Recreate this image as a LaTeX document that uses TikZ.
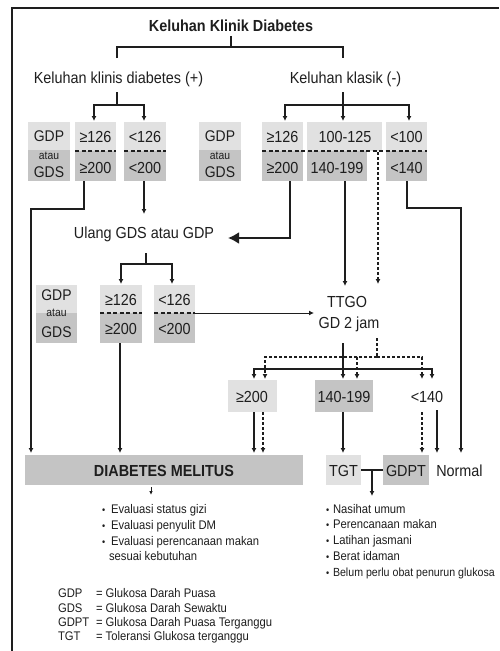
\documentclass[tikz,border=0pt]{standalone}
\usepackage{fontspec}
\setmainfont[FakeStretch=0.9]{Liberation Sans}
\usetikzlibrary{arrows.meta}
\definecolor{lightg}{RGB}{225,225,225}
\definecolor{darkg}{RGB}{196,196,196}
\definecolor{ink}{RGB}{30,30,30}
\newcommand\fsz[1]{\fontsize{#1}{#1}\selectfont}
\newcommand\mkbox[6]{\node[#6, minimum width=#4pt, minimum height=#5pt] (#1) at (#2,#3) {};}
\begin{document}
\begin{tikzpicture}[x=1pt,y=-1pt,
  line width=1.3pt, ink,
  txt/.style={inner sep=0pt, outer sep=0pt, text=ink, text depth=0pt, font=\fsz{16}},
  sml/.style={inner sep=0pt, outer sep=0pt, text=ink, font=\fsz{12.5}},
  lt/.style={fill=lightg, draw=none, inner sep=0pt, outer sep=0pt, anchor=north west},
  dk/.style={fill=darkg, draw=none, inner sep=0pt, outer sep=0pt, anchor=north west},
  arr/.style={-{Latex[length=5pt,width=5pt]}},
  dsh/.style={dash pattern=on 3pt off 2pt},
  sep/.style={line width=1.2pt, dash pattern=on 4pt off 2.5pt},
  bigarr/.style={line width=2pt, -{Latex[length=11pt,width=12pt]}},
]
\useasboundingbox (0,0) rectangle (499,651);
\fill[white] (0,0) rectangle (499,651);
% frame
\draw[line width=1.5pt] (12,651) -- (12,8) -- (499,8);

% ---------- boxes ----------
\mkbox{lg1t}{28}{122}{42}{28}{lt}
\mkbox{lg1b}{28}{150}{42}{31}{dk}
\mkbox{la1t}{75}{122}{41}{29}{lt}
\mkbox{la1b}{75}{151}{41}{30}{dk}
\mkbox{lb1t}{124}{122}{42}{29}{lt}
\mkbox{lb1b}{124}{151}{42}{30}{dk}
\mkbox{rg1t}{199}{122}{42}{28}{lt}
\mkbox{rg1b}{199}{150}{42}{31}{dk}
\mkbox{ra1t}{262}{122}{41}{29}{lt}
\mkbox{ra1b}{262}{151}{41}{30}{dk}
\mkbox{rb1t}{307}{122}{75}{29}{lt}
\mkbox{rb1b}{307}{151}{60}{30}{dk}
\mkbox{rc1t}{386}{122}{41}{29}{lt}
\mkbox{rc1b}{386}{151}{41}{30}{dk}
\mkbox{lg2t}{36}{285}{41}{28}{lt}
\mkbox{lg2b}{36}{313}{41}{30}{dk}
\mkbox{la2t}{100}{285}{42}{28}{lt}
\mkbox{la2b}{100}{313}{42}{30}{dk}
\mkbox{lb2t}{154}{285}{41}{28}{lt}
\mkbox{lb2b}{154}{313}{41}{30}{dk}
\mkbox{r3a}{228}{380}{49}{32}{lt}
\mkbox{r3b}{315}{380}{58}{32}{dk}
\mkbox{dm}{25}{455}{278}{30}{dk}
\mkbox{tgtb}{326}{455}{35}{30}{lt}
\mkbox{gdptb}{383}{455}{46}{30}{dk}

% separators
\draw[sep] (la1t.south west) -- (la1t.south east);
\draw[sep] (lb1t.south west) -- (lb1t.south east);
\draw[sep] (ra1t.south west) -- (rc1t.south east);
\draw[sep] (la2t.south west) -- (la2t.south east);
\draw[sep] (lb2t.south west) -- (lb2t.south east);

% ---------- texts ----------
\node[txt, font=\bfseries\fsz{16}] (title) at (231,26) {Keluhan Klinik Diabetes};
\node[txt] (kpos) at (118.5,78) {Keluhan klinis diabetes (+)};
\node[txt] (kneg) at (345.5,78) {Keluhan klasik (-)};

\node[txt, font=\fsz{15.5}] (lg1a) at (49,136.5) {GDP};
\node[txt, font=\fsz{11.5}] (lg1c) at (49,155.5) {atau};
\node[txt, font=\fsz{15.5}] (lg1d) at (49,172.5) {GDS};
\node[txt] (la1x) at (95.5,137) {≥126};
\node[txt] (la1y) at (95.5,167.5) {≥200};
\node[txt] (lb1x) at (145,137) {<126};
\node[txt] (lb1y) at (145,167.5) {<200};

\node[txt, font=\fsz{15.5}] (rg1a) at (220,136.5) {GDP};
\node[txt, font=\fsz{11.5}] (rg1c) at (220,155.5) {atau};
\node[txt, font=\fsz{15.5}] (rg1d) at (220,172.5) {GDS};
\node[txt] (ra1x) at (282.5,137) {≥126};
\node[txt] (ra1y) at (282.5,167.5) {≥200};
\node[txt] (rb1x) at (345,137) {100-125};
\node[txt] (rb1y) at (337,167.5) {140-199};
\node[txt] (rc1x) at (406.5,137) {<100};
\node[txt] (rc1y) at (406.5,167.5) {<140};

\node[txt] (ulang) at (144,232.5) {Ulang GDS atau GDP};

\node[txt, font=\fsz{15.5}] (lg2a) at (56.5,295.5) {GDP};
\node[txt, font=\fsz{11.5}] (lg2c) at (56.5,313) {atau};
\node[txt, font=\fsz{15.5}] (lg2d) at (56.5,332.5) {GDS};
\node[txt] (la2x) at (121,299.5) {≥126};
\node[txt] (la2y) at (121,328.5) {≥200};
\node[txt] (lb2x) at (174.5,299.5) {<126};
\node[txt] (lb2y) at (174.5,328.5) {<200};

\node[txt] (ttgo) at (347,302) {TTGO};
\node[txt] (gd2) at (349,323) {GD 2 jam};

\node[txt] (r3ax) at (252,397) {≥200};
\node[txt] (r3bx) at (344,397) {140-199};
\node[txt] (r3c) at (427,397) {<140};

\node[txt, font=\bfseries\fsz{16}] (dmx) at (164,471) {DIABETES MELITUS};
\node[txt] (tgt) at (343.5,471) {TGT};
\node[txt] (gdpt) at (406,471) {GDPT};
\node[txt] (normal) at (459.5,471) {Normal};

% bullets
\node[sml, anchor=base west] (bl1) at (102,513) {\makebox[9pt][l]{\fsz{10}•}Evaluasi status gizi};
\node[sml, anchor=base west] (bl2) at (102,529) {\makebox[9pt][l]{\fsz{10}•}Evaluasi penyulit DM};
\node[sml, anchor=base west] (bl3) at (102,545) {\makebox[9pt][l]{\fsz{10}•}Evaluasi perencanaan makan};
\node[sml, anchor=base west] (bl4) at (109,560.5) {sesuai kebutuhan};

\node[sml, anchor=base west] (br1) at (326,513) {\makebox[7pt][l]{\fsz{10}•}Nasihat umum};
\node[sml, anchor=base west] (br2) at (326,528.5) {\makebox[7pt][l]{\fsz{10}•}Perencanaan makan};
\node[sml, anchor=base west] (br3) at (326,544) {\makebox[7pt][l]{\fsz{10}•}Latihan jasmani};
\node[sml, anchor=base west] (br4) at (326,560) {\makebox[7pt][l]{\fsz{10}•}Berat idaman};
\node[sml, anchor=base west] (br5) at (326,576) {\makebox[7pt][l]{\fsz{10}•}{\fsz{11.8}Belum perlu obat penurun glukosa}};

% legend
\node[sml, anchor=base west] (g1) at (58,597) {GDP};
\node[sml, anchor=base west] (g1t) at (96,597) {= Glukosa Darah Puasa};
\node[sml, anchor=base west] (g2) at (58,612) {GDS};
\node[sml, anchor=base west] (g2t) at (96,612) {= Glukosa Darah Sewaktu};
\node[sml, anchor=base west] (g3) at (58,626.5) {GDPT};
\node[sml, anchor=base west] (g3t) at (96,626.5) {= Glukosa Darah Puasa Terganggu};
\node[sml, anchor=base west] (g4) at (58,640.5) {TGT};
\node[sml, anchor=base west] (g4t) at (96,640.5) {= Toleransi Glukosa terganggu};

% ---------- junction coordinates ----------
\coordinate (jt) at (231,47);
\coordinate (jl) at (117,105);
\coordinate (jr) at (343,105);
\coordinate (ju) at (146,264);
\coordinate (js) at (343,369);
\coordinate (jd) at (377,357);
\coordinate (jg) at (372,470);

% ---------- connectors ----------
\draw ([yshift=-4pt]title.south) -- (jt);
\draw (117,58) |- (jt) -| (343,58);

\draw (117,92) -- (jl);
\draw[arr] (jl) -| (94,121);
\draw[arr] (jl) -| (144,121);

\draw (343,92) -- (jr);
\draw[arr] (jr) -| (285,121);
\draw[arr] (jr) -- (343,121);
\draw[arr] (jr) -| (409,121);

\draw[arr] (84,181) |- (31,209) -- (31,453);
\draw[arr] (144,181) -- (144,214);
\draw[bigarr] (290,181) |- (228,238);
\draw[arr] (345,181) -- (345,286);
\draw[arr,dsh] (378,152) -- (378,284);
\draw[arr] (407,181) |- (461,208) -- (461,453);

\draw (146,253) -- (ju);
\draw[arr] (ju) -| (121,284);
\draw[arr] (ju) -| (172,284);

\draw[arr, line width=1pt] (lb2t.south east) -- (314,313);
\draw[arr] (120,343) -- (120,453);

\draw (343,343) -- (js);
\draw[arr] (js) -| (254,379);
\draw[arr] (js) -- (343,379);
\draw[arr] (js) -| (432,379);

\draw[dsh] (377,338) -- (jd);
\draw[arr,dsh] (jd) -| (265,379);
\draw[arr,dsh] (jd) -| (357,379);
\draw[arr,dsh] (jd) -| (422,379);

\draw[arr] (254,412) -- (254,453);
\draw[arr,dsh] (263,412) -- (263,453);
\draw[arr] (343,412) -- (343,453);
\draw[arr,dsh] (422,412) -- (422,453);
\draw[arr] (437,410) -- (437,453);

\draw (tgtb.east) -- (gdptb.west);
\draw[arr] (jg) -- (372,496);
\draw[line width=0.9pt, -{Latex[length=4pt,width=3.5pt]}] (151,487) -- (151,495);
\end{tikzpicture}
\end{document}
